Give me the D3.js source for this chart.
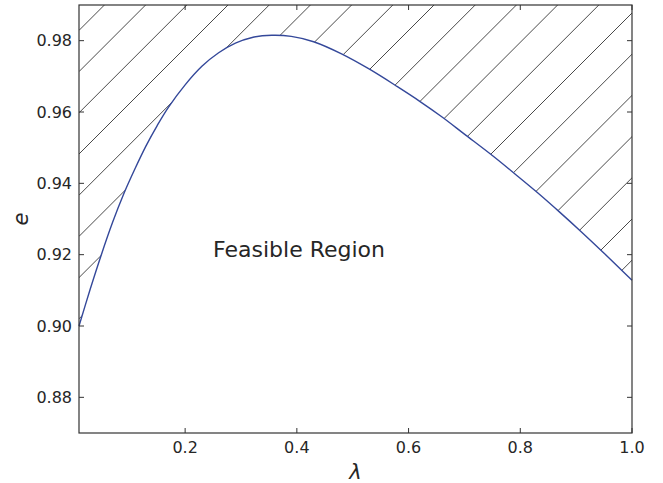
<!DOCTYPE html>
<html>
<head>
<meta charset="utf-8">
<script src="https://cdn.jsdelivr.net/npm/d3@7"></script>
<style>
  body { margin: 0; background: #fff; }
  text { font-family: "DejaVu Sans", sans-serif; fill: #262626; }
</style>
</head>
<body>
<svg id="chart" width="663" height="483"></svg>
<script>
// data
var lambda = [0.01, 0.03, 0.05, 0.07, 0.09, 0.11, 0.13, 0.15, 0.17, 0.20, 0.23, 0.26, 0.29, 0.32, 0.355,
  0.39, 0.43, 0.48, 0.53, 0.58, 0.62, 0.66, 0.70, 0.75, 0.79, 0.83, 0.87, 0.91, 0.95, 1.0]
var ecc = [0.9000, 0.9103, 0.9200, 0.9290, 0.9370, 0.9440, 0.9505, 0.9562, 0.9613, 0.9676, 0.9728, 0.9766, 0.9793, 0.9809, 0.9815,
  0.9812, 0.9797, 0.9763, 0.9720, 0.9671, 0.9630, 0.9586, 0.9538, 0.9478, 0.9427, 0.9375, 0.9320, 0.9263, 0.9204, 0.9128]
var xTicks = [0.2, 0.4, 0.6, 0.8, 1.0]
var yTicks = [0.88, 0.90, 0.92, 0.94, 0.96, 0.98]

var margin = { left: 79, top: 5, right: 31, bottom: 50 }
var width = 663 - margin.left - margin.right
var height = 483 - margin.top - margin.bottom
var tickLen = 5
var axisColor = '#333'
var hatchGap = 41.2
var hatchOffset = 25.4

var svg = d3.select('#chart')
var g = svg.append('g').attr('transform', 'translate(' + margin.left + ',' + margin.top + ')')

var x = d3.scaleLinear().domain([0.01, 1.0]).range([0, width])
var y = d3.scaleLinear().domain([0.87, 0.99]).range([height, 0])

var pts = lambda.map(function(l, i) { return [l, ecc[i]] })

var line = d3.line()
  .x(function(d) { return x(d[0]) })
  .y(function(d) { return y(d[1]) })
  .curve(d3.curveCatmullRom.alpha(0.5))

var area = d3.area()
  .x(function(d) { return x(d[0]) })
  .y0(0)
  .y1(function(d) { return y(d[1]) })
  .curve(d3.curveCatmullRom.alpha(0.5))

// clip region above the curve
g.append('clipPath').attr('id', 'above')
  .append('path').attr('d', area(pts))

var hatch = g.append('g').attr('clip-path', 'url(#above)')
for (var c = hatchOffset; c < width + height; c += hatchGap) {
  hatch.append('line')
    .attr('x1', 0).attr('y1', c)
    .attr('x2', c).attr('y2', 0)
    .attr('stroke', '#1a1a1a')
    .attr('stroke-width', 0.8)
}

g.append('path')
  .attr('d', line(pts))
  .attr('fill', 'none')
  .attr('stroke', '#34489a')
  .attr('stroke-width', 1.4)

// box
g.append('rect')
  .attr('width', width).attr('height', height)
  .attr('fill', 'none')
  .attr('stroke', axisColor)
  .attr('stroke-width', 1.2)

// ticks inward on all four sides
xTicks.forEach(function(t) {
  g.append('line').attr('x1', x(t)).attr('x2', x(t)).attr('y1', height).attr('y2', height - tickLen).attr('stroke', axisColor)
  g.append('line').attr('x1', x(t)).attr('x2', x(t)).attr('y1', 0).attr('y2', tickLen).attr('stroke', axisColor)
  g.append('text')
    .attr('x', x(t)).attr('y', height + 20)
    .attr('text-anchor', 'middle')
    .style('font-size', '16px')
    .text(d3.format('.1f')(t))
})
yTicks.forEach(function(t) {
  g.append('line').attr('x1', 0).attr('x2', tickLen).attr('y1', y(t)).attr('y2', y(t)).attr('stroke', axisColor)
  g.append('line').attr('x1', width).attr('x2', width - tickLen).attr('y1', y(t)).attr('y2', y(t)).attr('stroke', axisColor)
  g.append('text')
    .attr('x', -7).attr('y', y(t))
    .attr('dy', '0.35em')
    .attr('text-anchor', 'end')
    .style('font-size', '16px')
    .text(d3.format('.2f')(t))
})

g.append('text')
  .attr('x', x(0.25)).attr('y', 252)
  .style('font-size', '22px')
  .text('Feasible Region')

svg.append('text')
  .attr('x', margin.left + width / 2).attr('y', 479)
  .attr('text-anchor', 'middle')
  .style('font-size', '21px').style('font-style', 'italic')
  .text('λ')

svg.append('text')
  .attr('transform', 'translate(28,' + (margin.top + height / 2) + ') rotate(-90)')
  .attr('text-anchor', 'middle')
  .style('font-size', '21px').style('font-style', 'italic')
  .text('e')
</script>
</body>
</html>
